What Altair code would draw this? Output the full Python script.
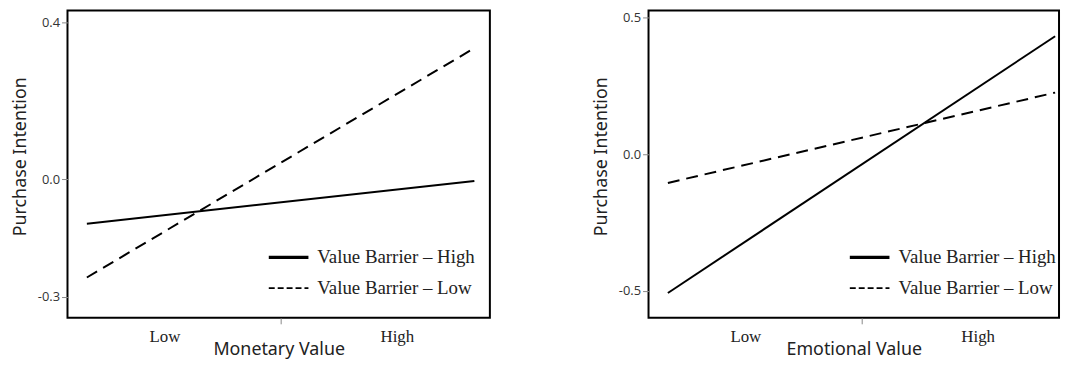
import altair as alt
import pandas as pd

# ---- data ----
x_levels = [-1, 1]
series_names = ["Value Barrier – High", "Value Barrier – Low"]
monetary_high = [-0.114, -0.005]
monetary_low = [-0.251, 0.334]
emotional_high = [-0.507, 0.431]
emotional_low = [-0.105, 0.225]
x_tick_values = [-0.6, 0, 0.6]
x_tick_labels = ["Low", "", "High"]
left_y_ticks = [0.4, 0.0, -0.3]
right_y_ticks = [0.5, 0.0, -0.5]
left_y_domain = [-0.354, 0.430]
right_y_domain = [-0.598, 0.525]
left_x_domain = [-1.1, 1.08]
right_x_domain = [-1.1, 1.02]  # right panel is cut off by the image edge in the reference


def make_df(high, low):
    rows = []
    for name, vals in zip(series_names, [high, low]):
        for x, v in zip(x_levels, vals):
            rows.append({"x": x, "y": v, "series": name})
    return pd.DataFrame(rows)


label_expr = "datum.value < 0 ? '%s' : (datum.value > 0 ? '%s' : '')" % (x_tick_labels[0], x_tick_labels[2])


def panel(df, x_title, x_domain, y_domain, y_ticks, width):
    x_enc = alt.X(
        "x:Q",
        scale=alt.Scale(domain=x_domain, nice=False, zero=False),
        axis=alt.Axis(
            values=x_tick_values,
            labelExpr=label_expr,
            labelFont="Liberation Serif",
            labelFontSize=17,
            labelColor="#222",
            tickSize=6,
            tickColor={"condition": {"test": "datum.value === 0", "value": "#888"}, "value": "transparent"},
            labelPadding=5,
            title=x_title,
            titleFont="Noto Sans",
            titleFontSize=18,
            titleFontWeight="normal",
            titleColor="#222",
            titlePadding=-4,
        ),
    )
    y_enc = alt.Y(
        "y:Q",
        scale=alt.Scale(domain=y_domain, nice=False, zero=False),
        axis=alt.Axis(
            values=y_ticks,
            labelExpr="(datum.value < 0 ? '-' : '') + format(abs(datum.value), '.1f')",
            labelFont="Open Sans",
            labelFontSize=13,
            labelColor="#333",
            tickSize=6,
            tickColor="#888",
            labelPadding=2,
            title="Purchase Intention",
            titleFont="Noto Sans",
            titleFontSize=18,
            titleFontWeight="normal",
            titleColor="#222",
            titlePadding=8,
            titleY=147,
        ),
    )
    high_line = (
        alt.Chart(df)
        .transform_filter(alt.datum.series == series_names[0])
        .mark_line(color="black", strokeWidth=2)
        .encode(x=x_enc, y=y_enc)
    )
    low_line = (
        alt.Chart(df)
        .transform_filter(alt.datum.series == series_names[1])
        .mark_line(color="black", strokeWidth=2, strokeDash=[12, 7])
        .encode(x=x_enc, y=y_enc)
    )
    leg = alt.Legend(
        title=None,
        orient="none",
        legendX=201,
        legendY=227,
        symbolType="stroke",
        symbolSize=1600,
        symbolStrokeColor="black",
        symbolOpacity=1,
        labelFont="Liberation Serif",
        labelFontSize=19,
        labelColor="#222",
        labelOffset=7,
        labelLimit=400,
        rowPadding=-7,
        padding=0,
    )
    legend_layer = alt.Chart(df).mark_line(color="black", opacity=0).encode(
        x=x_enc,
        y=y_enc,
        strokeDash=alt.StrokeDash(
            "series:N",
            scale=alt.Scale(domain=series_names, range=[[1, 0], [6, 3]]),
            legend=leg,
        ),
        strokeWidth=alt.StrokeWidth(
            "series:N",
            scale=alt.Scale(domain=series_names, range=[3.5, 1.8]),
            legend=leg,
        ),
    )
    return alt.layer(high_line, low_line, legend_layer).properties(width=width, height=310)


left = panel(make_df(monetary_high, monetary_low), "Monetary Value",
             left_x_domain, left_y_domain, left_y_ticks, 426)
right = panel(make_df(emotional_high, emotional_low), "Emotional Value",
              right_x_domain, right_y_domain, right_y_ticks, 414)

chart = (
    alt.hconcat(left, right, spacing=101)
    .resolve_scale(x="independent", y="independent", strokeDash="independent", strokeWidth="independent")
    .resolve_legend(strokeDash="independent", strokeWidth="independent")
    .properties(padding={"left": 2, "top": 0, "right": 0, "bottom": 0})
    .configure_view(stroke="black", strokeWidth=2)
    .configure_axis(grid=False, domain=False)
)

chart.save("out.html", embed_options={"renderer": "svg", "actions": False})
